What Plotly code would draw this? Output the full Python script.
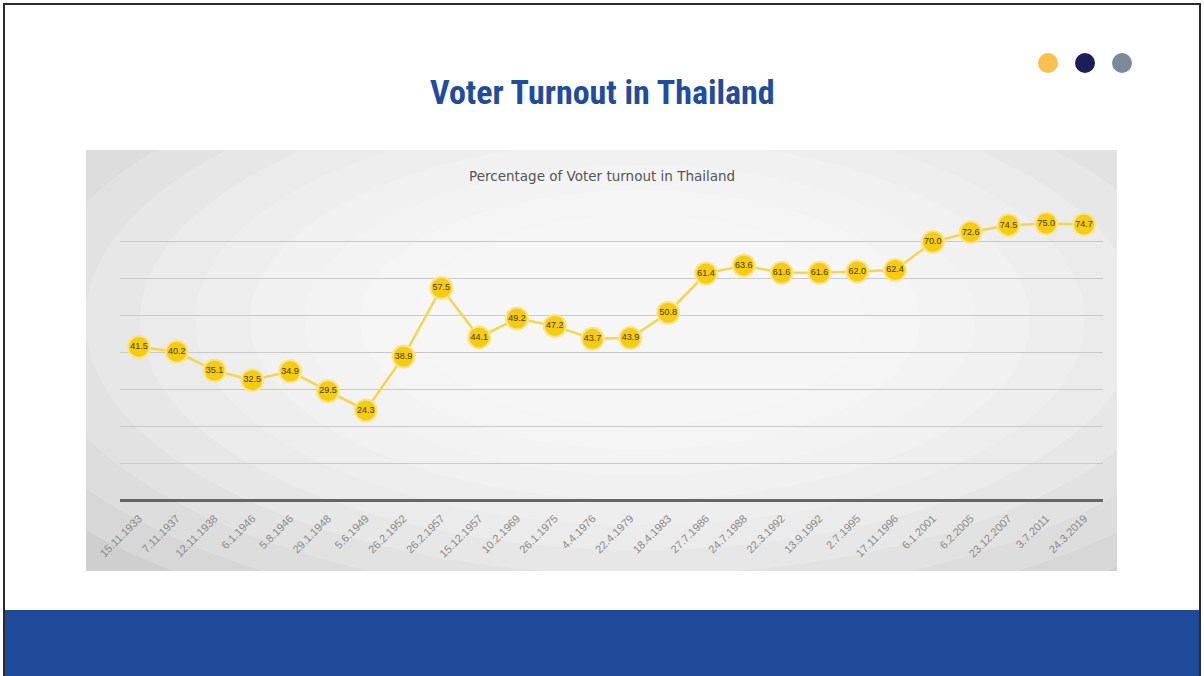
import plotly.graph_objects as go

W, H = 1204, 676

dates = ["15.11.1933", "7.11.1937", "12.11.1938", "6.1.1946", "5.8.1946", "29.1.1948",
         "5.6.1949", "26.2.1952", "26.2.1957", "15.12.1957", "10.2.1969", "26.1.1975",
         "4.4.1976", "22.4.1979", "18.4.1983", "27.7.1986", "24.7.1988", "22.3.1992",
         "13.9.1992", "2.7.1995", "17.11.1996", "6.1.2001", "6.2.2005", "23.12.2007",
         "3.7.2011", "24.3.2019"]
turnout = [41.5, 40.2, 35.1, 32.5, 34.9, 29.5, 24.3, 38.9, 57.5, 44.1, 49.2, 47.2,
           43.7, 43.9, 50.8, 61.4, 63.6, 61.6, 61.6, 62.0, 62.4, 70.0, 72.6, 74.5,
           75.0, 74.7]
grid_vals = [0, 10, 20, 30, 40, 50, 60, 70]

slide_title = "Voter Turnout in Thailand"
chart_title = "Percentage of Voter turnout in Thailand"

fig = go.Figure()
fig.add_trace(go.Scatter(
    x=dates, y=turnout, mode="lines+markers+text",
    line=dict(color="#F3D64E", width=2.5),
    marker=dict(size=22, color="#F5CC12", line=dict(color="#FBE58A", width=2)),
    text=[f"{v:.1f}" for v in turnout], textposition="middle center",
    textfont=dict(family="Liberation Sans Narrow, Liberation Sans, Arial", size=9, color="#4A3A00"),
    hoverinfo="x+y", showlegend=False, cliponaxis=False,
))

x0, x1 = 120 / W, 1103 / W
y0, y1 = (H - 500) / H, (H - 205) / H

fig.update_xaxes(domain=[x0, x1], type="category", range=[-0.5, len(dates) - 0.5],
                 showgrid=False, showline=False, zeroline=False, ticks="", automargin=False,
                 tickangle=-45, ticklabelstandoff=9,
                 tickfont=dict(family="Liberation Sans, Arial", size=11, color="#8A8A8A"),
                 fixedrange=True)
fig.update_yaxes(domain=[y0, y1], range=[0, 80], tickvals=grid_vals, showticklabels=False,
                 showgrid=True, gridcolor="#CACACA", gridwidth=1.2, automargin=False,
                 zeroline=True, zerolinecolor="#666666", zerolinewidth=2.5, showline=False,
                 fixedrange=True)

shapes = []
cx0, cy0, cx1, cy1 = 86, 150, 1117, 571
def px(x): return x / W
def py(y): return (H - y) / H
shapes.append(dict(type="rect", xref="paper", yref="paper", x0=px(cx0), x1=px(cx1), y0=py(cy1), y1=py(cy0),
                   fillcolor="#CFCFCF", line=dict(width=0), layer="below"))
for i in range(10):
    hw = 720 - i * 55
    hh = 330 - i * 25
    shapes.append(dict(type="circle", xref="paper", yref="paper",
                       x0=px(640 - hw), x1=px(640 + hw), y0=py(320 + hh), y1=py(320 - hh),
                       fillcolor="rgba(255,255,255,0.17)", line=dict(width=0), layer="below"))
for (a, b, c, d) in [(0, 0, W, cy0), (0, cy1, W, H), (0, 0, cx0, H), (cx1, 0, W, H)]:
    shapes.append(dict(type="rect", xref="paper", yref="paper", x0=px(a), x1=px(c), y0=py(d), y1=py(b),
                       fillcolor="#FFFFFF", line=dict(width=0), layer="below"))
shapes.append(dict(type="rect", xref="paper", yref="paper", x0=px(5), x1=px(1199), y0=0, y1=py(610),
                   fillcolor="#1F4A99", line=dict(width=0), layer="below"))
shapes.append(dict(type="rect", xref="paper", yref="paper", x0=px(4), x1=px(1200), y0=py(680), y1=py(4),
                   fillcolor="rgba(0,0,0,0)", line=dict(color="#2B2B2B", width=2), layer="below"))
for cx, col in [(1048, "#FBC04F"), (1085, "#1A1F57"), (1122, "#7B8A9A")]:
    shapes.append(dict(type="circle", xref="paper", yref="paper", x0=px(cx - 10), x1=px(cx + 10),
                       y0=py(73), y1=py(53), fillcolor=col, line=dict(width=0), layer="below"))

annotations = [
    dict(text=f"<b>{slide_title}</b>", xref="paper", yref="paper", x=px(602), y=py(92),
         xanchor="center", yanchor="middle", showarrow=False,
         font=dict(family="Liberation Sans Narrow, Roboto Condensed, Roboto", size=34, color="#1F4C9C")),
    dict(text=chart_title, xref="paper", yref="paper", x=px(602), y=py(176),
         xanchor="center", yanchor="middle", showarrow=False,
         font=dict(family="DejaVu Sans, Liberation Sans", size=13.5, color="#555555")),
]

fig.update_layout(width=W, height=H, margin=dict(l=0, r=0, t=0, b=0, autoexpand=False),
                  paper_bgcolor="#FFFFFF", plot_bgcolor="rgba(0,0,0,0)",
                  shapes=shapes, annotations=annotations, showlegend=False)

fig.write_html("out.html", config={"displayModeBar": False},
               post_script="document.body.style.margin='0';document.documentElement.style.overflow='hidden';")
